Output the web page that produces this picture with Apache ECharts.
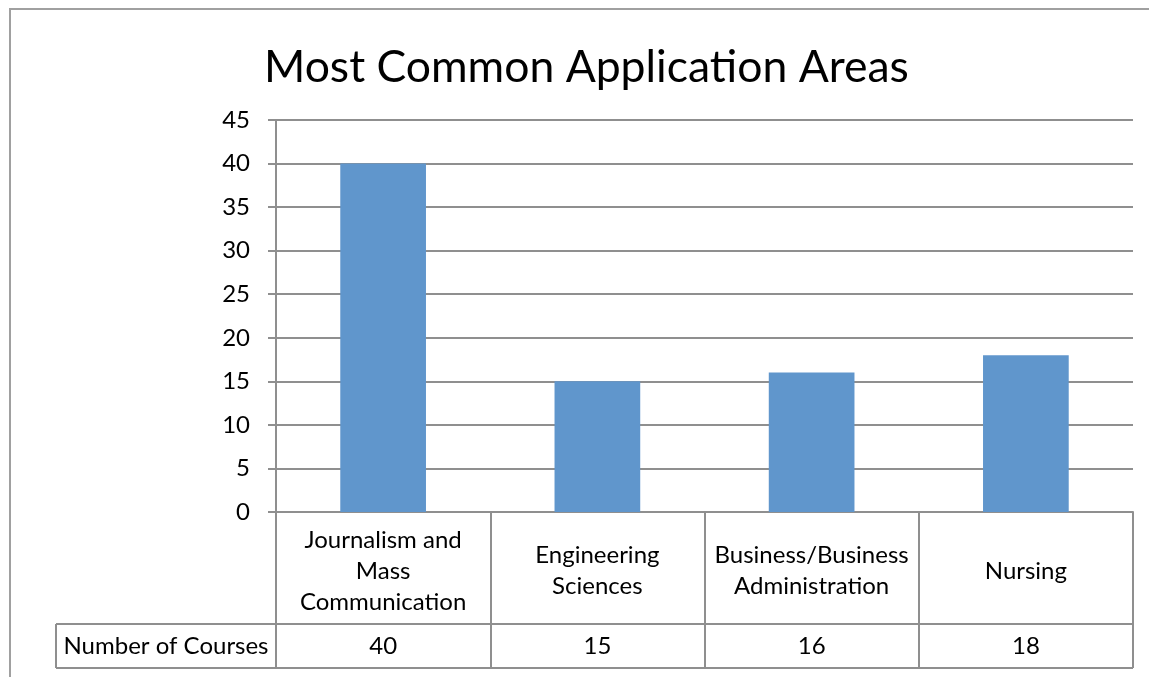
<!DOCTYPE html>
<html>
<head>
<meta charset="utf-8">
<script src="https://cdn.jsdelivr.net/npm/echarts@6/dist/echarts.min.js"></script>
<style>
html,body{margin:0;padding:0;background:#fff;}
#c{width:1149px;height:677px;}
</style>
</head>
<body>
<div id="c"></div>
<script>
const categories = ["Journalism and\nMass\nCommunication", "Engineering\nSciences", "Business/Business\nAdministration", "Nursing"];
const values = [40, 15, 16, 18];
const seriesName = "Number of Courses";
const titleText = "Most Common Application Areas";

const FONT = "Lato";
const GRAY = "#8f8f8f";
const L = 276, R = 1133, T = 120, B = 512;
const ROW1 = 624, ROW2 = 668, CELLX = 56;

const chart = echarts.init(document.getElementById('c'));
chart.setOption({
  animation: false,
  backgroundColor: '#fff',
  title: {
    text: titleText, left: 259, top: 40,
    textStyle: { fontFamily: FONT, fontSize: 44.5, fontWeight: 'normal', color: '#000' }
  },
  grid: { left: L, right: 1149 - R, top: T, bottom: 677 - B, containLabel: false },
  xAxis: [{
    type: 'category', data: categories, position: 'bottom',
    axisLine: { show: true, lineStyle: { color: GRAY, width: 2 } },
    axisTick: { show: true, interval: 0, alignWithLabel: false, length: ROW2 - B, lineStyle: { color: GRAY, width: 2 } },
    axisLabel: { interval: 0, margin: 59, verticalAlign: 'middle', fontFamily: FONT, fontSize: 24, lineHeight: 31, color: '#000', align: 'center' }
  }, {
    type: 'category', data: values.map(String), position: 'bottom',
    axisLine: { show: false }, axisTick: { show: false },
    axisLabel: { interval: 0, margin: 134, verticalAlign: 'middle', fontFamily: FONT, fontSize: 24, color: '#000' }
  }],
  yAxis: {
    type: 'value', min: 0, max: 45, interval: 5,
    axisLine: { show: true, lineStyle: { color: GRAY, width: 2 } },
    axisTick: { show: true, length: 8, lineStyle: { color: GRAY, width: 2 } },
    splitLine: { show: true, lineStyle: { color: GRAY, width: 2 } },
    axisLabel: { margin: 26, fontFamily: FONT, fontSize: 24, color: '#000' }
  },
  series: [{
    name: seriesName, type: 'bar', data: values, barWidth: '40%', xAxisIndex: 0,
    itemStyle: { color: '#6096cc' }
  }],
  graphic: [
    { type: 'rect', shape: { x: 10, y: 9, width: 1300, height: 800 }, style: { fill: 'none', stroke: '#a0a0a0', lineWidth: 2 }, silent: true },
    { type: 'line', shape: { x1: CELLX, y1: ROW1, x2: R, y2: ROW1 }, style: { stroke: GRAY, lineWidth: 2 } },
    { type: 'line', shape: { x1: CELLX, y1: ROW2, x2: R, y2: ROW2 }, style: { stroke: GRAY, lineWidth: 2 } },
    { type: 'line', shape: { x1: CELLX, y1: ROW1, x2: CELLX, y2: ROW2 }, style: { stroke: GRAY, lineWidth: 2 } },
    { type: 'text', x: (CELLX + L) / 2, y: (ROW1 + ROW2) / 2, style: { text: seriesName, fontFamily: FONT, fontSize: 24, fill: '#000', align: 'center', verticalAlign: 'middle' } }
  ]
});
</script>
</body>
</html>
